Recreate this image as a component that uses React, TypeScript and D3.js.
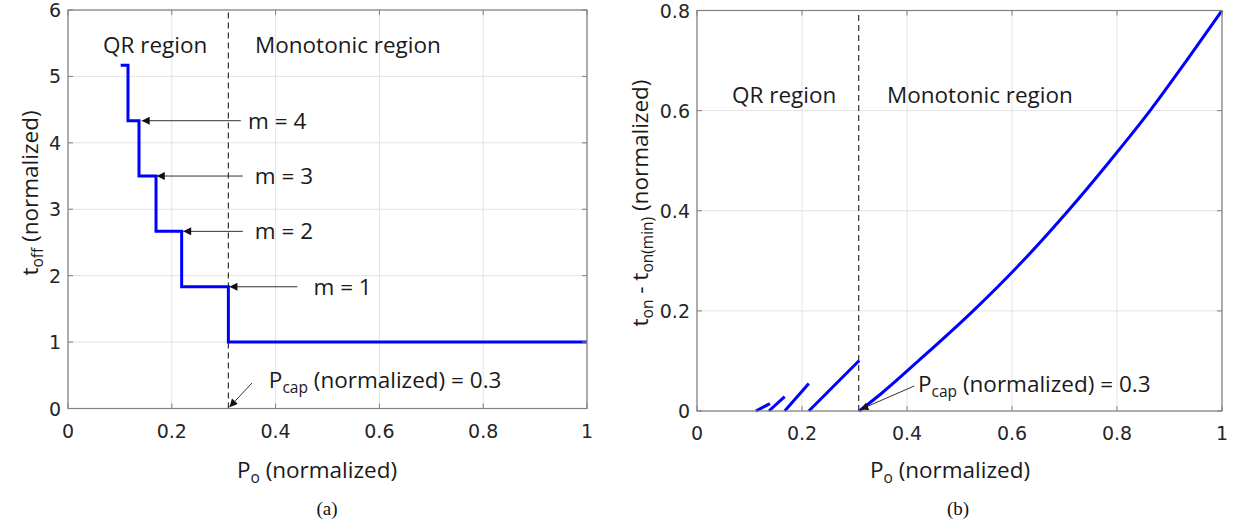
import React from "react";
import * as d3 from "d3";

// ---------- data ----------
const xTicks = [0, 0.2, 0.4, 0.6, 0.8, 1];
const xTickLabels = ["0", "0.2", "0.4", "0.6", "0.8", "1"];
const yTicksA = [0, 1, 2, 3, 4, 5, 6];
const yTicksB = [0, 0.2, 0.4, 0.6, 0.8];
const yTickLabelsB = ["0", "0.2", "0.4", "0.6", "0.8"];

// (a) t_off step curve
const stepPo = [0.1015, 0.1156, 0.1368, 0.1696, 0.219, 0.309, 1.0];
const stepToff = [5.167, 4.333, 3.5, 2.667, 1.833, 1.0, 1.0];
const pCap = 0.309;

// m annotations (a)
const mLabels = ["m = 4", "m = 3", "m = 2", "m = 1"];
const mLevels = [4.333, 3.5, 2.667, 1.833];
const mHeadX = [0.142, 0.171, 0.222, 0.311];
const mTailX = [0.333, 0.337, 0.337, 0.442];
const mTextX = [0.347, 0.36, 0.36, 0.473];

// (b) small QR segments
const qrSegX0 = [0.112, 0.137, 0.167, 0.213];
const qrSegX1 = [0.139, 0.167, 0.213, 0.309];
const qrSegY1 = [0.0147, 0.0287, 0.0547, 0.101];

// (b) monotonic curve
const monoPo = [0.309, 0.35, 0.4216, 0.526, 0.621, 0.707, 0.787, 0.863, 0.9325, 1.0];
const monoTon = [0, 0.034, 0.1, 0.2, 0.3, 0.4, 0.5, 0.6, 0.7, 0.8];

const ANN_FONT = "'Open Sans', Lato, sans-serif";
const TICK_FONT = "'DejaVu Sans', Arial, sans-serif";
const SERIF = "'Liberation Serif', 'Times New Roman', serif";
const BLUE = "#0000ff";
const ANN_SIZE = 22.5;
const SUB_SIZE = 15.5;

function Grid({ x, y, yTicks }: any) {
  const [x0, x1] = x.range();
  const [y0, y1] = y.range();
  return (
    <g>
      <rect x={x0} y={y1} width={x1 - x0} height={y0 - y1} fill="#fff" />
      {xTicks.map((t, i) => (
        <line key={"gx" + i} x1={x(t)} x2={x(t)} y1={y0} y2={y1} stroke="#e3e3e3" strokeWidth={1} />
      ))}
      {yTicks.map((t: number, i: number) => (
        <line key={"gy" + i} x1={x0} x2={x1} y1={y(t)} y2={y(t)} stroke="#e3e3e3" strokeWidth={1} />
      ))}
    </g>
  );
}

function Box({ x, y, yTicks, yLabels }: any) {
  const [x0, x1] = x.range();
  const [y0, y1] = y.range();
  const tl = 5;
  return (
    <g>
      <rect x={x0} y={y1} width={x1 - x0} height={y0 - y1} fill="none" stroke="#808080" strokeWidth={1.2} />
      {xTicks.map((t, i) => (
        <g key={"tx" + i}>
          <line x1={x(t)} x2={x(t)} y1={y0} y2={y0 - tl} stroke="#808080" />
          <line x1={x(t)} x2={x(t)} y1={y1} y2={y1 + tl} stroke="#808080" />
          <text x={x(t)} y={y0 + 29} textAnchor="middle" fontFamily={TICK_FONT} fontSize={19} fill="#262626">
            {xTickLabels[i]}
          </text>
        </g>
      ))}
      {yTicks.map((t: number, i: number) => (
        <g key={"ty" + i}>
          <line x1={x0} x2={x0 + tl} y1={y(t)} y2={y(t)} stroke="#808080" />
          <line x1={x1} x2={x1 - tl} y1={y(t)} y2={y(t)} stroke="#808080" />
          <text x={x0 - 7} y={y(t) + 7} textAnchor="end" fontFamily={TICK_FONT} fontSize={19} fill="#262626">
            {yLabels[i]}
          </text>
        </g>
      ))}
    </g>
  );
}

export default function App() {
  const xa = d3.scaleLinear().domain([0, 1]).range([68, 587]);
  const ya = d3.scaleLinear().domain([0, 6]).range([408.5, 10]);
  const xb = d3.scaleLinear().domain([0, 1]).range([697, 1222]);
  const yb = d3.scaleLinear().domain([0, 0.8]).range([411, 10.5]);

  const stepLine = d3
    .line<number>()
    .x((_, i) => xa(stepPo[i]))
    .y((_, i) => ya(stepToff[i]))
    .curve(d3.curveStepAfter);

  const monoLine = d3
    .line<number>()
    .x((_, i) => xb(monoPo[i]))
    .y((_, i) => yb(monoTon[i]))
    .curve(d3.curveMonotoneX);

  const txt = { fontFamily: ANN_FONT, fontSize: ANN_SIZE, fill: "#1a1a1a" } as any;

  return (
    <svg width={1234} height={527} style={{ display: "block", position: "absolute", left: 0, top: 0 }}>
      <defs>
        <marker id="ah" viewBox="0 0 10 10" refX="10" refY="5" markerWidth="10" markerHeight="8" markerUnits="userSpaceOnUse" orient="auto">
          <path d="M0,0 L10,5 L0,10 z" fill="#111" />
        </marker>
      </defs>
      <rect width={1234} height={527} fill="#fff" />

      {/* ---------- (a) ---------- */}
      <Grid x={xa} y={ya} yTicks={yTicksA} />
      <line x1={xa(pCap)} x2={xa(pCap)} y1={ya(0)} y2={ya(6)} stroke="#333" strokeWidth={1.2} strokeDasharray="6,4" />
      <path d={stepLine(stepPo) || ""} fill="none" stroke={BLUE} strokeWidth={3} />
      <Box x={xa} y={ya} yTicks={yTicksA} yLabels={yTicksA.map(String)} />

      <text x={103} y={53} {...txt}>QR region</text>
      <text x={255} y={53} {...txt}>Monotonic region</text>

      {mLabels.map((lab, i) => (
        <g key={"m" + i}>
          <line x1={xa(mTailX[i])} x2={xa(mHeadX[i])} y1={ya(mLevels[i])} y2={ya(mLevels[i])} stroke="#333" strokeWidth={1} markerEnd="url(#ah)" />
          <text x={xa(mTextX[i])} y={ya(mLevels[i]) + 8} {...txt}>{lab}</text>
        </g>
      ))}

      <line x1={xa(0.3545)} y1={ya(0.384)} x2={xa(0.311)} y2={ya(0.02)} stroke="#333" strokeWidth={1} markerEnd="url(#ah)" />
      <text x={xa(0.387)} y={ya(0.31)} {...txt}>
        P<tspan fontSize={SUB_SIZE} dy={5}>cap</tspan>
        <tspan dy={-5}> (normalized) = 0.3</tspan>
      </text>

      <text transform="translate(38,193) rotate(-90)" textAnchor="middle" {...txt}>
        t<tspan fontSize={SUB_SIZE} dy={5}>off</tspan>
        <tspan dy={-5}> (normalized)</tspan>
      </text>
      <text x={317} y={478} textAnchor="middle" {...txt}>
        P<tspan fontSize={SUB_SIZE} dy={5}>o</tspan>
        <tspan dy={-5}> (normalized)</tspan>
      </text>
      <text x={327} y={515} textAnchor="middle" fontFamily={SERIF} fontSize={19} fill="#111">(a)</text>

      {/* ---------- (b) ---------- */}
      <Grid x={xb} y={yb} yTicks={yTicksB} />
      <line x1={xb(0.308)} x2={xb(0.308)} y1={yb(0)} y2={yb(0.8)} stroke="#333" strokeWidth={1.2} strokeDasharray="6,4" />
      {qrSegX0.map((s, i) => (
        <line key={"q" + i} x1={xb(s)} y1={yb(0)} x2={xb(qrSegX1[i])} y2={yb(qrSegY1[i])} stroke={BLUE} strokeWidth={3} />
      ))}
      <path d={monoLine(monoPo) || ""} fill="none" stroke={BLUE} strokeWidth={3} />
      <Box x={xb} y={yb} yTicks={yTicksB} yLabels={yTickLabelsB} />

      <text x={732} y={103} {...txt}>QR region</text>
      <text x={887} y={103} {...txt}>Monotonic region</text>

      <line x1={xb(0.414)} y1={yb(0.05)} x2={xb(0.311)} y2={yb(0.003)} stroke="#333" strokeWidth={1} markerEnd="url(#ah)" />
      <text x={xb(0.421)} y={yb(0.038)} {...txt}>
        P<tspan fontSize={SUB_SIZE} dy={5}>cap</tspan>
        <tspan dy={-5}> (normalized) = 0.3</tspan>
      </text>

      <text transform="translate(648,203) rotate(-90)" textAnchor="middle" {...txt}>
        t<tspan fontSize={SUB_SIZE} dy={5}>on</tspan>
        <tspan dy={-5}> - t</tspan>
        <tspan fontSize={SUB_SIZE} dy={5}>on(min)</tspan>
        <tspan dy={-5}> (normalized)</tspan>
      </text>
      <text x={950} y={478} textAnchor="middle" {...txt}>
        P<tspan fontSize={SUB_SIZE} dy={5}>o</tspan>
        <tspan dy={-5}> (normalized)</tspan>
      </text>
      <text x={958} y={515} textAnchor="middle" fontFamily={SERIF} fontSize={19} fill="#111">(b)</text>
    </svg>
  );
}
